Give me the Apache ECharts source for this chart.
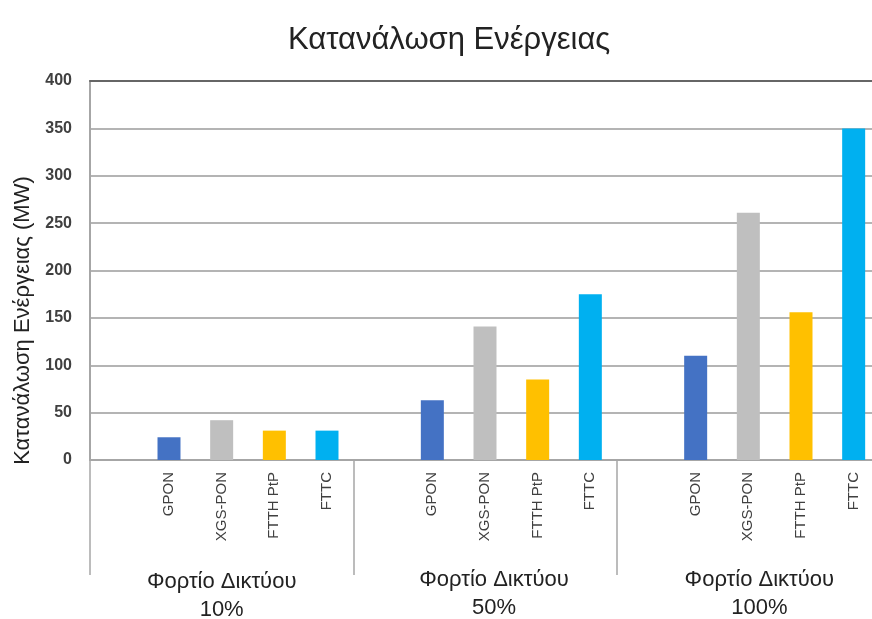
<!DOCTYPE html>
<html>
<head>
<meta charset="utf-8">
<script src="https://cdn.jsdelivr.net/npm/echarts@6/dist/echarts.min.js"></script>
<style>
  html, body { margin: 0; padding: 0; background: #fff; }
  #chart { width: 872px; height: 619px; }
</style>
</head>
<body>
<div id="chart"></div>
<script>
// technologies and network loads
const techs = ['GPON', 'XGS-PON', 'FTTH PtP', 'FTTC'];
const loads = ['Φορτίο Δικτύου\n10%', 'Φορτίο Δικτύου\n50%', 'Φορτίο Δικτύου\n100%'];
const techColors = ['#4472C4', '#BFBFBF', '#FFC000', '#00B0F0'];

// energy consumption (MW) per load, in techs order
const load10 = [24, 42, 31, 31];
const load50 = [63, 141, 85, 175];
const load100 = [110, 261, 156, 350];

const yTicks = [0, 400, 50];

// each group starts with an empty slot, like the original
const categories = [];
const barData = [];
[load10, load50, load100].forEach(vals => {
  categories.push('');
  barData.push(null);
  vals.forEach((v, i) => {
    categories.push(techs[i]);
    barData.push({ value: v, itemStyle: { color: techColors[i] } });
  });
});

const chart = echarts.init(document.getElementById('chart'));

const groupFont = { fontFamily: 'Liberation Sans, Arial', fontSize: 22, lineHeight: 28, color: '#222' };

const option = {
  animation: false,
  title: {
    text: 'Κατανάλωση Ενέργειας',
    left: 283,
    top: 20,
    textStyle: { fontFamily: 'Liberation Sans, Arial', fontSize: 31, fontWeight: 'normal', color: '#222' },
  },
  // plot runs a little past the right edge, as in the original crop
  grid: { left: 90, top: 81, width: 790, bottom: 159, containLabel: false, outerBoundsMode: 'none' },
  xAxis: [
    {
      type: 'category',
      data: categories,
      axisLine: { lineStyle: { color: '#a6a6a6', width: 2 } },
      axisTick: { show: false },
      axisLabel: {
        rotate: 90,
        interval: 0,
        margin: 12,
        fontSize: 15,
        fontFamily: 'Liberation Sans, Arial',
        color: '#404040',
      },
    },
    {
      type: 'category',
      data: loads,
      position: 'bottom',
      axisLine: { show: false },
      axisTick: { show: true, length: 115, lineStyle: { color: '#a6a6a6', width: 1.5 } },
      axisLabel: {
        interval: 0,
        margin: 106,
        ...groupFont,
        // the original labels sit a bit off-centre in groups 2 and 3
        formatter: (v, i) => v.split('\n').map(l => `{g${i}|${l}}`).join('\n'),
        rich: {
          g0: { ...groupFont, padding: [4, 0, 0, 0] },
          g1: { ...groupFont, padding: [0, 0, 0, 18] },
          g2: { ...groupFont, padding: [0, 0, 0, 22] },
        },
      },
    },
    {
      type: 'category',
      data: loads,
      position: 'top',
      axisLine: { lineStyle: { color: '#666', width: 2 } },
      axisTick: { show: false },
      axisLabel: { show: false },
    },
  ],
  yAxis: {
    type: 'value',
    min: yTicks[0],
    max: yTicks[1],
    interval: yTicks[2],
    name: 'Κατανάλωση Ενέργειας (MW)',
    nameLocation: 'middle',
    nameGap: 56,
    nameTextStyle: {
      fontFamily: 'Liberation Sans, Arial',
      fontSize: 22,
      color: '#222',
      padding: [0, 100, 0, 0],
    },
    axisLine: { show: true, lineStyle: { color: '#a6a6a6', width: 2 } },
    axisTick: { show: false },
    axisLabel: {
      margin: 18,
      fontSize: 16,
      fontWeight: 'bold',
      fontFamily: 'Liberation Sans, Arial',
      color: '#404040',
    },
    splitLine: { lineStyle: { color: '#b4b4b4', width: 2 } },
  },
  series: [
    {
      type: 'bar',
      xAxisIndex: 0,
      barWidth: 23,
      data: barData,
    },
  ],
};

chart.setOption(option);
</script>
</body>
</html>
